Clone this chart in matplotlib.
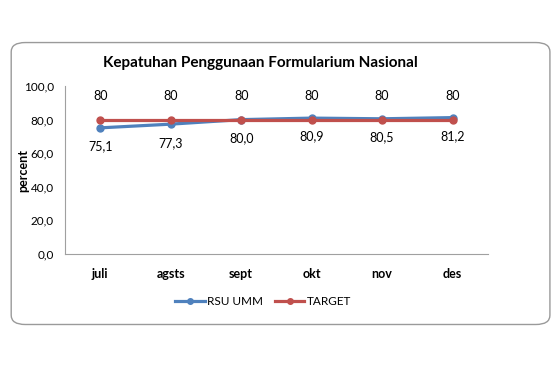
import matplotlib.pyplot as plt
from matplotlib.patches import FancyBboxPatch

# data
months = ['juli', 'agsts', 'sept', 'okt', 'nov', 'des']
rsu_umm = [75.1, 77.3, 80.0, 80.9, 80.5, 81.2]
target = [80, 80, 80, 80, 80, 80]
yticks = [0, 20, 40, 60, 80, 100]

plt.rcParams['font.family'] = ['Lato', 'DejaVu Sans']

fig = plt.figure(figsize=(5.6, 3.7), dpi=100)

# rounded chart border
border = FancyBboxPatch((0.02, 0.123), 0.962, 0.762, boxstyle='round,pad=0,rounding_size=0.025',
                        transform=fig.transFigure, facecolor='none', edgecolor='#9a9a9a', lw=1.0,
                        zorder=-1)
fig.patches.append(border)

ax = fig.add_axes([0.116, 0.3135, 0.755, 0.454])
ax.patch.set_alpha(0)
x = range(len(months))
ax.plot(x, rsu_umm, color='#4F81BD', lw=2.3, marker='o', ms=5, label='RSU UMM', clip_on=False)
ax.plot(x, target, color='#C0504D', lw=2.3, marker='o', ms=5, label='TARGET', clip_on=False)

for i in x:
    ax.annotate(f'{target[i]}', (i, target[i]), xytext=(0, 13), textcoords='offset points',
                ha='center', va='bottom', fontsize=9)
    ax.annotate(f'{rsu_umm[i]:.1f}'.replace('.', ','), (i, rsu_umm[i]), xytext=(0, -9),
                textcoords='offset points', ha='center', va='top', fontsize=9)

ax.set_xlim(-0.5, len(months) - 0.5)
ax.set_ylim(0, 100)
ax.set_yticks(yticks)
ax.set_yticklabels([f'{v:.1f}'.replace('.', ',') for v in yticks], fontsize=8.5)
ax.set_xticks(list(x))
ax.set_xticklabels(months, fontsize=9, fontweight='bold')
ax.tick_params(axis='both', length=0)
ax.tick_params(axis='x', pad=10)
ax.tick_params(axis='y', pad=8)
for s in ['top', 'right']:
    ax.spines[s].set_visible(False)
for s in ['left', 'bottom']:
    ax.spines[s].set_color('#a0a0a0')

ax.set_ylabel('percent', fontsize=9, fontweight='bold', labelpad=-4)
fig.text(0.465, 0.83, 'Kepatuhan Penggunaan Formularium Nasional', fontsize=11, fontweight='bold',
         ha='center', va='center')

fig.legend(loc='center', bbox_to_anchor=(0.47, 0.185), ncol=2, frameon=False, fontsize=8.5,
           handlelength=2.5, columnspacing=1.0, handletextpad=0.2, markerscale=0.8)

fig.savefig('out.png', dpi=100)
